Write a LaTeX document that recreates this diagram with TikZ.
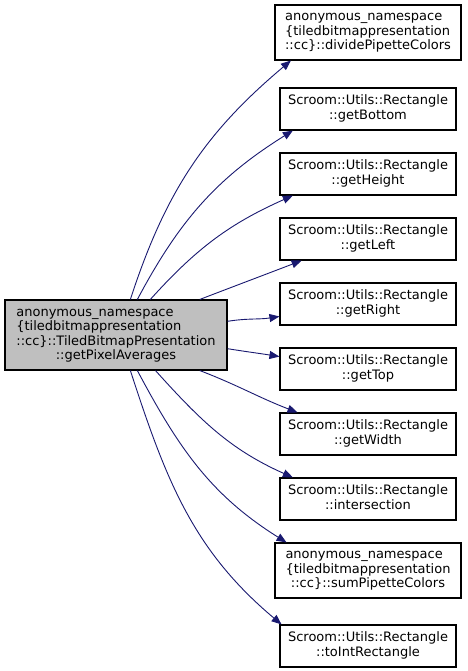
\documentclass[tikz,border=0pt]{standalone}
\usepackage{fontspec}
\setmainfont{DejaVu Sans}
\usetikzlibrary{arrows.meta}

\definecolor{midnight}{HTML}{191970}
\newcommand{\lastln}[1]{\multicolumn{1}{@{}c@{}}{#1}}
\newcommand{\fnlabel}[1]{\begin{tabular}{@{}l@{}}#1\end{tabular}}

\begin{document}
\begin{tikzpicture}[
  x=1pt, y=1pt,
  >={Triangle[length=10pt,width=8pt]},
  font=\fontsize{13}{14.4}\selectfont,
  fn/.style={draw, line width=1.1pt, inner sep=0pt, minimum width=176pt, minimum height=42pt},
  fnlong/.style={fn, minimum width=186pt, minimum height=55pt},
  caller/.style={fn, fill=black!25, minimum width=222pt, minimum height=70pt},
  call/.style={->, color=midnight, line width=0.9pt}
]
  \useasboundingbox (0,0) rectangle (467,-671);

  \node[caller] (main) at (116,-335)
    {\fnlabel{anonymous\_namespace\\\{tiledbitmappresentation\\::cc\}::TiledBitmapPresentation\\\lastln{::getPixelAverages}}};

  \node[fnlong] (divide) at (368,-32.5)
    {\fnlabel{anonymous\_namespace\\\{tiledbitmappresentation\\::cc\}::dividePipetteColors}};
  \node[fn] (bottom) at (368,-109) {\fnlabel{Scroom::Utils::Rectangle\\\lastln{::getBottom}}};
  \node[fn] (height) at (368,-174) {\fnlabel{Scroom::Utils::Rectangle\\\lastln{::getHeight}}};
  \node[fn] (left)   at (368,-239) {\fnlabel{Scroom::Utils::Rectangle\\\lastln{::getLeft}}};
  \node[fn] (right)  at (368,-304) {\fnlabel{Scroom::Utils::Rectangle\\\lastln{::getRight}}};
  \node[fn] (top)    at (368,-369) {\fnlabel{Scroom::Utils::Rectangle\\\lastln{::getTop}}};
  \node[fn] (width)  at (368,-434) {\fnlabel{Scroom::Utils::Rectangle\\\lastln{::getWidth}}};
  \node[fn] (inter)  at (368,-499) {\fnlabel{Scroom::Utils::Rectangle\\\lastln{::intersection}}};
  \node[fnlong] (sum) at (368,-570.5)
    {\fnlabel{anonymous\_namespace\\\{tiledbitmappresentation\\\lastln{::cc\}::sumPipetteColors}}};
  \node[fn] (toint)  at (368,-646) {\fnlabel{Scroom::Utils::Rectangle\\\lastln{::toIntRectangle}}};

  \path[call]
    (main.68)  edge[out=72,in=220]  (divide.200)
    (main.59)  edge[out=62,in=212]  (bottom.196)
    (main.46)  edge[out=48,in=204]  (height.196)
    (main.23)  edge[out=21,in=201]  (left.198)
    (main.7)   edge[out=9,in=189]   (right.188)
    (main.-7)  edge[out=-9,in=171]  (top.172)
    (main.-23) edge[out=-21,in=159] (width.163)
    (main.-42) edge[out=-48,in=156] (inter.164)
    (main.-59) edge[out=-62,in=148] (sum.161)
    (main.-68) edge[out=-72,in=140] (toint.166);
\end{tikzpicture}
\end{document}
